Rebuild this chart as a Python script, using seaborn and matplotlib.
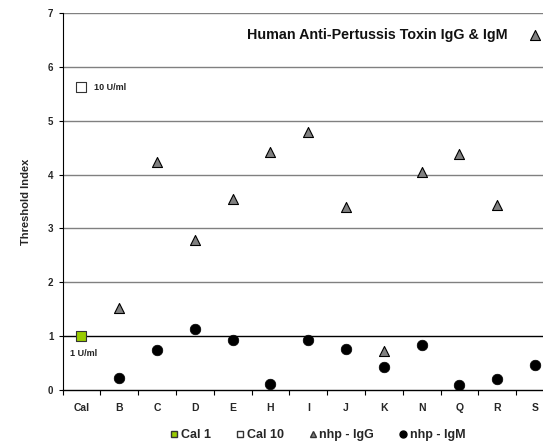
import numpy as np
import pandas as pd
import matplotlib
matplotlib.use("Agg")
import matplotlib.pyplot as plt
import seaborn as sns
from matplotlib.lines import Line2D

categories = ["Cal", "B", "C", "D", "E", "H", "I", "J", "K", "N", "Q", "R", "S"]
cal1_cat = ["Cal"]
cal1_val = [1.0]
cal10_cat = ["Cal"]
cal10_val = [5.62]
samples = ["B", "C", "D", "E", "H", "I", "J", "K", "N", "Q", "R", "S"]
igg = [1.52, 4.23, 2.78, 3.55, 4.42, 4.79, 3.39, 0.73, 4.05, 4.39, 3.43, 6.6]
igm = [0.23, 0.75, 1.13, 0.92, 0.11, 0.92, 0.77, 0.42, 0.84, 0.09, 0.21, 0.47]
yticks = [0, 1, 2, 3, 4, 5, 6, 7]

sns.set_theme(style="white")
plt.rcParams["font.family"] = ["Liberation Sans", "DejaVu Sans"]
plt.rcParams["font.weight"] = "bold"

pos = {c: i for i, c in enumerate(categories)}
df_igg = pd.DataFrame({"x": [pos[c] for c in samples], "y": igg})
df_igm = pd.DataFrame({"x": [pos[c] for c in samples], "y": igm})
df_c1 = pd.DataFrame({"x": [pos[c] for c in cal1_cat], "y": cal1_val})
df_c10 = pd.DataFrame({"x": [pos[c] for c in cal10_cat], "y": cal10_val})

fig = plt.figure(figsize=(5.43, 4.48), dpi=100)
ax = fig.add_axes([62.5 / 543, 1 - 390 / 448, (554 - 62.5) / 543, (390 - 13) / 448])

for t in yticks[1:]:
    ax.axhline(t, color="black" if t == 1 else "#808080", lw=1.0, zorder=1)

sns.scatterplot(data=df_igm, x="x", y="y", marker="o", s=58, color="black",
                edgecolor="black", linewidth=0.5, ax=ax, zorder=3)
sns.scatterplot(data=df_igg, x="x", y="y", marker="^", s=52, color="#808080",
                edgecolor="black", linewidth=0.8, ax=ax, zorder=3)
sns.scatterplot(data=df_c1, x="x", y="y", marker="s", s=60, color="#99cc00",
                edgecolor="#333333", linewidth=0.8, ax=ax, zorder=4)
sns.scatterplot(data=df_c10, x="x", y="y", marker="s", s=45, color="white",
                edgecolor="#333333", linewidth=0.8, ax=ax, zorder=4)

ax.text(df_c10["x"][0] + 0.33, df_c10["y"][0], "10 U/ml", fontsize=6.5,
        fontweight="bold", va="center", ha="left", color="#222222")
ax.text(df_c1["x"][0] - 0.3, df_c1["y"][0] - 0.33, "1 U/ml", fontsize=6.5,
        fontweight="bold", va="center", ha="left", color="#222222")
ax.text(0.906, 6.6, "Human Anti-Pertussis Toxin IgG & IgM", fontsize=10.3,
        fontweight="bold", va="center", ha="right", transform=ax.get_yaxis_transform(),
        color="#111111")

ax.set_xlim(-0.5, len(categories) - 0.5)
ax.set_ylim(0, 7)
ax.set_yticks(yticks)
ax.set_yticklabels([str(t) for t in yticks], fontsize=7, fontweight="bold")
ax.set_xticks(range(len(categories)))
ax.set_xticklabels(categories, fontsize=7.5, fontweight="bold")
ax.set_xticks(np.arange(len(categories) + 1) - 0.5, minor=True)
ax.tick_params(axis="x", which="major", bottom=True, length=0, pad=9)
ax.tick_params(axis="x", which="minor", bottom=True, length=3.5, width=0.8, direction="out", color="black")
ax.tick_params(axis="y", which="major", left=True, length=3, width=0.8, direction="out", color="black", pad=3.6)
ax.set_xlabel("")
ax.set_ylabel("Threshold Index", fontsize=8, fontweight="bold", labelpad=12)

for side in ["top", "right"]:
    ax.spines[side].set_visible(False)
ax.spines["left"].set_color("black")
ax.spines["left"].set_linewidth(0.8)
ax.spines["bottom"].set_color("black")
ax.spines["bottom"].set_linewidth(1.0)

handles = [
    Line2D([], [], marker="s", ls="", color="#99cc00", markeredgecolor="#333333", markersize=5, label="Cal 1"),
    Line2D([], [], marker="s", ls="", color="white", markeredgecolor="#333333", markersize=5, label="Cal 10"),
    Line2D([], [], marker="^", ls="", color="#808080", markeredgecolor="#333333", markersize=5, label="nhp - IgG"),
    Line2D([], [], marker="o", ls="", color="black", markeredgecolor="black", markersize=5, label="nhp - IgM"),
]
fig.legend(handles=handles, loc="center", bbox_to_anchor=(318 / 543, 1 - 435 / 448), ncol=4,
           frameon=False, handletextpad=0.25, columnspacing=2.0,
           handlelength=0.6, prop={"weight": "bold", "size": 9})

fig.savefig("out.png", dpi=100)
